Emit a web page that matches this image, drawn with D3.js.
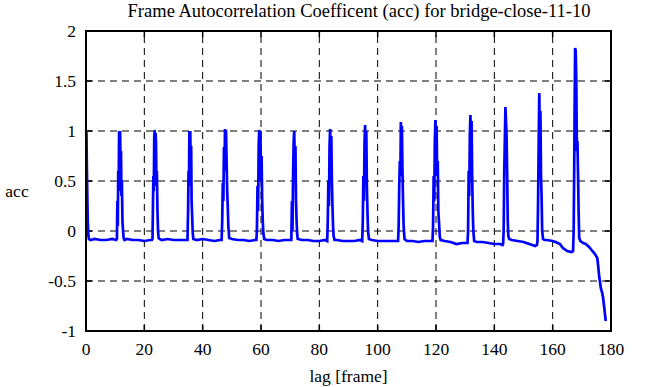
<!DOCTYPE html>
<html lang="en">
<head>
    <title>Frame Autocorrelation Coefficent</title>
    <script src="https://d3js.org/d3.v7.min.js"></script>
    <style>
        body { margin: 0; background: #fff; }
        svg text { font-family: "Liberation Serif", "DejaVu Serif", serif; fill: #000; }
    </style>
</head>
<body>
    <div id="chart"></div>
    <script>

        // chart texts
        const titleText = "Frame Autocorrelation Coefficent (acc) for bridge-close-11-10";
        const xLabel = "lag [frame]";
        const yLabel = "acc";

        // tick values and their labels
        const xTicks = [0, 20, 40, 60, 80, 100, 120, 140, 160, 180];
        const xTickLabels = ["0", "20", "40", "60", "80", "100", "120", "140", "160", "180"];
        const yTicks = [-1, -0.5, 0, 0.5, 1, 1.5, 2];
        const yTickLabels = ["-1", "-0.5", "0", "0.5", "1", "1.5", "2"];

        // lag values
        const lags = [
            0, 0.15, 0.3, 0.45, 0.6, 0.8, 1.0, 1.5, 3, 5, 7, 9, 10.3,
            10.6, 10.75, 10.9, 11.05, 11.2, 11.35, 11.55, 11.7, 11.85, 12.0, 12.15, 12.3, 12.5, 12.7, 12.9, 13.2,
            14, 16, 18, 20, 22, 22.6,
            22.8, 22.95, 23.1, 23.25, 23.4, 23.55, 23.7, 23.85, 24.0, 24.15, 24.3, 24.5, 24.7, 24.9, 25.2,
            26, 28, 30, 32, 34,
            34.8, 35.0, 35.15, 35.3, 35.45, 35.6, 35.75, 35.9, 36.05, 36.2, 36.4, 36.6, 36.8,
            38, 40, 42, 44, 46,
            46.5, 46.7, 46.9, 47.1, 47.3, 47.5, 47.65, 47.85, 48.0, 48.2, 48.4, 48.6, 48.8, 49.1,
            50, 52, 54, 56, 58,
            58.4, 58.6, 58.8, 59.0, 59.2, 59.4, 59.6, 59.8, 60.0, 60.2, 60.4, 60.6, 60.8, 61.1,
            62, 64, 66, 68, 70,
            70.4, 70.6, 70.8, 71.0, 71.2, 71.4, 71.6, 71.8, 72.0, 72.2, 72.4, 72.6,
            74, 76, 78, 80, 82,
            82.7, 82.9, 83.1, 83.3, 83.5, 83.7, 83.9, 84.1, 84.3, 84.5, 84.7, 84.9, 85.2,
            86, 88, 90, 92, 94,
            94.7, 94.9, 95.1, 95.3, 95.5, 95.7, 95.9, 96.1, 96.3, 96.5, 96.7, 97.0,
            98, 100, 102, 104, 106,
            107.0, 107.2, 107.4, 107.6, 107.8, 107.95, 108.1, 108.3, 108.5, 108.7, 108.9, 109.2,
            110, 112, 114, 116, 118,
            118.8, 119.0, 119.2, 119.4, 119.6, 119.8, 120.0, 120.2, 120.4, 120.6, 120.8, 121.0, 121.3, 121.6,
            123, 125, 127, 129, 130.5,
            130.8, 131.0, 131.2, 131.4, 131.6, 131.8, 132.0, 132.2, 132.4, 132.6, 132.8, 133.1,
            134, 136, 138, 140, 142, 142.8,
            143.0, 143.2, 143.4, 143.6, 143.8, 144.0, 144.2, 144.4, 144.6, 144.8, 145.1,
            146, 148, 150, 152, 153, 154, 154.6,
            154.8, 155.0, 155.2, 155.4, 155.6, 155.8, 156.0, 156.2, 156.4, 156.7, 157.2,
            158, 160, 161, 162.5, 163.5, 165, 166.5, 167.0,
            167.2, 167.35, 167.5, 167.7, 167.9, 168.1, 168.3, 168.5, 168.7, 168.9, 169.1, 169.5,
            170.5, 171.3, 172.5, 173.6, 174.5, 175.3, 175.6, 175.9, 176.5, 177.0, 177.3, 177.7, 178.0, 178.2
        ];

        // autocorrelation values, one per lag above
        const acc = [
            1.0, 0.98, 0.62, 0.35, 0.1, -0.04, -0.08, -0.09, -0.08, -0.09, -0.09, -0.08, -0.09,
            -0.08, 0.3, 0.05, 0.6, 0.4, 1.0, 0.85, 1.0, 0.55, 0.8, 0.35, 0.5, 0.1, 0.0, -0.07, -0.09,
            -0.08, -0.09, -0.09, -0.1, -0.09, -0.09,
            -0.08, 0.25, 0.55, 0.4, 0.95, 1.01, 0.7, 0.98, 0.88, 0.45, 0.6, 0.2, 0.0, -0.07, -0.08,
            -0.09, -0.08, -0.09, -0.09, -0.09,
            -0.09, 0.2, 0.6, 0.45, 1.0, 0.75, 1.0, 0.6, 0.85, 0.3, 0.15, -0.02, -0.08,
            -0.09, -0.08, -0.09, -0.1, -0.09,
            -0.09, 0.1, 0.48, 0.3, 0.84, 0.6, 1.02, 0.95, 1.01, 0.7, 0.4, 0.25, 0.05, -0.07,
            -0.08, -0.09, -0.09, -0.1, -0.09,
            -0.09, 0.0, 0.45, 0.2, 0.85, 1.01, 0.7, 1.0, 0.5, 0.75, 0.3, 0.1, -0.02, -0.08,
            -0.09, -0.09, -0.1, -0.09, -0.09,
            -0.09, 0.3, 0.0, 0.55, 0.9, 1.0, 0.6, 0.85, 0.3, 0.1, -0.03, -0.08,
            -0.09, -0.09, -0.1, -0.1, -0.09,
            -0.1, 0.1, 0.5, 0.25, 0.85, 1.02, 0.75, 0.95, 0.5, 0.25, 0.05, -0.05, -0.09,
            -0.09, -0.1, -0.1, -0.1, -0.09,
            -0.1, 0.1, 0.55, 0.3, 0.9, 1.06, 0.8, 1.0, 0.45, 0.2, 0.0, -0.08,
            -0.09, -0.1, -0.1, -0.1, -0.1,
            -0.1, 0.05, 0.45, 0.7, 0.55, 1.09, 0.95, 1.05, 0.6, 0.3, 0.05, -0.08,
            -0.1, -0.1, -0.11, -0.1, -0.1,
            -0.1, 0.05, 0.55, 0.3, 0.9, 1.11, 0.85, 1.05, 0.55, 0.7, 0.2, 0.1, -0.06, -0.09,
            -0.1, -0.11, -0.13, -0.12, -0.12,
            -0.12, 0.0, 0.6, 0.35, 0.95, 1.16, 0.9, 1.1, 0.55, 0.2, 0.0, -0.1,
            -0.11, -0.11, -0.12, -0.13, -0.13, -0.14,
            -0.13, 0.0, 0.6, 0.9, 1.24, 1.1, 0.95, 0.55, 0.1, -0.05, -0.08,
            -0.09, -0.1, -0.11, -0.13, -0.14, -0.15, -0.14,
            -0.1, 0.3, 0.85, 1.38, 1.0, 1.2, 0.55, 0.35, 0.0, -0.08, -0.09,
            -0.09, -0.1, -0.11, -0.13, -0.17, -0.2, -0.21, -0.2,
            0.0, 0.5, 1.11, 1.83, 1.8, 1.5, 0.8, 0.9, 0.56, 0.2, -0.07, -0.1,
            -0.12, -0.13, -0.16, -0.2, -0.23, -0.27, -0.35, -0.44, -0.57, -0.62, -0.67, -0.77, -0.85, -0.9
        ];

        const width = 666, height = 387;
        const margin = { top: 31, right: 55, bottom: 56, left: 86 };

        const svg = d3.select("#chart")
            .append("svg")
            .attr("width", width)
            .attr("height", height);

        const x = d3.scaleLinear().domain([0, 180]).range([margin.left, width - margin.right]);
        const y = d3.scaleLinear().domain([-1, 2]).range([height - margin.bottom, margin.top]);

        // dashed grid
        svg.selectAll(".vgrid")
            .data(xTicks.slice(1, -1))
            .enter()
                .append("line")
                .attr("x1", d => x(d)).attr("x2", d => x(d))
                .attr("y1", y(-1)).attr("y2", y(2))
                .style("stroke", "#000").style("stroke-width", 1)
                .style("stroke-dasharray", "7,5");

        svg.selectAll(".hgrid")
            .data(yTicks.slice(1, -1))
            .enter()
                .append("line")
                .attr("x1", x(0)).attr("x2", x(180))
                .attr("y1", d => y(d)).attr("y2", d => y(d))
                .style("stroke", "#000").style("stroke-width", 1)
                .style("stroke-dasharray", "7,5");

        // inward ticks on all four sides
        const tickLen = 6;
        xTicks.forEach(t => {
            svg.append("line").attr("x1", x(t)).attr("x2", x(t))
                .attr("y1", y(-1)).attr("y2", y(-1) - tickLen)
                .style("stroke", "#000").style("stroke-width", 1.5);
            svg.append("line").attr("x1", x(t)).attr("x2", x(t))
                .attr("y1", y(2)).attr("y2", y(2) + tickLen)
                .style("stroke", "#000").style("stroke-width", 1.5);
        });
        yTicks.forEach(t => {
            svg.append("line").attr("x1", x(0)).attr("x2", x(0) + tickLen)
                .attr("y1", y(t)).attr("y2", y(t))
                .style("stroke", "#000").style("stroke-width", 1.5);
            svg.append("line").attr("x1", x(180)).attr("x2", x(180) - tickLen)
                .attr("y1", y(t)).attr("y2", y(t))
                .style("stroke", "#000").style("stroke-width", 1.5);
        });

        // the acc line
        const line = d3.line()
            .x((d, i) => x(lags[i]))
            .y(d => y(d));

        svg.append("path")
            .datum(acc)
            .attr("d", line)
            .style("fill", "none")
            .style("stroke", "#0000ff")
            .style("stroke-width", 2.7)
            .style("stroke-linejoin", "miter");

        // frame
        svg.append("rect")
            .attr("x", x(0)).attr("y", y(2))
            .attr("width", x(180) - x(0)).attr("height", y(-1) - y(2))
            .style("fill", "none").style("stroke", "#000").style("stroke-width", 2);

        // tick labels
        svg.selectAll(".xlab")
            .data(xTicks)
            .enter()
                .append("text")
                .attr("x", d => x(d))
                .attr("y", y(-1) + 24)
                .attr("text-anchor", "middle")
                .style("font-size", "17.5px")
                .text((d, i) => xTickLabels[i]);

        svg.selectAll(".ylab")
            .data(yTicks)
            .enter()
                .append("text")
                .attr("x", x(0) - 10)
                .attr("y", d => y(d) + 6)
                .attr("text-anchor", "end")
                .style("font-size", "17.5px")
                .text((d, i) => yTickLabels[i]);

        // titles
        svg.append("text")
            .attr("x", 359)
            .attr("y", 17)
            .attr("text-anchor", "middle")
            .style("font-size", "18.5px")
            .text(titleText);

        svg.append("text")
            .attr("x", (x(0) + x(180)) / 2)
            .attr("y", 382)
            .attr("text-anchor", "middle")
            .style("font-size", "17.5px")
            .text(xLabel);

        svg.append("text")
            .attr("x", 17)
            .attr("y", 197)
            .attr("text-anchor", "middle")
            .style("font-size", "17.5px")
            .text(yLabel);

    </script>
</body>
</html>
